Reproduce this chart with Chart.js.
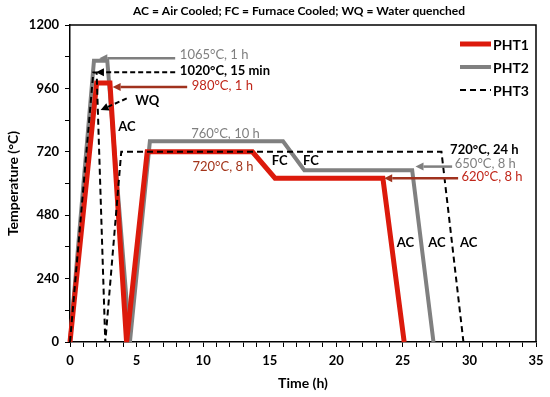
<!DOCTYPE html>
<html><head><meta charset="utf-8">
<script src="https://cdn.jsdelivr.net/npm/chart.js@4.4.1/dist/chart.umd.min.js"></script>
<style>html,body{margin:0;padding:0;background:#fff}#wrap{width:550px;height:397px}</style>
</head><body><div id="wrap"><canvas id="c" width="550" height="397"></canvas></div>
<script>
// ---- data ----
const seriesNames = ['PHT1', 'PHT2', 'PHT3'];
const pht1Time = [0, 2.0, 3.0, 4.25, 5.8, 13.7, 15.4, 23.5, 25.1];
const pht1Temp = [0, 980, 980, 0, 720, 720, 620, 620, 0];
const pht2Time = [0, 1.8, 2.8, 4.5, 6.0, 16.0, 17.6, 25.7, 27.3];
const pht2Temp = [0, 1065, 1065, 0, 760, 760, 650, 650, 0];
const pht3Time = [0, 1.75, 2.0, 2.65, 3.85, 27.9, 29.55];
const pht3Temp = [0, 1020, 1020, 0, 720, 720, 0];
const xMajorTicks = [0, 5, 10, 15, 20, 25, 30, 35];
const yMajorTicks = [0, 240, 480, 720, 960, 1200];
const titleText = 'AC = Air Cooled; FC = Furnace Cooled; WQ = Water quenched';
const xTitle = 'Time (h)';
const yTitle = 'Temperature (°C)';

// annotation labels anchored in data space (t = hours, T = °C at vertical centre, left-aligned)
const noteLabels = [
  {text: '1065°C, 1 h', t: 8.25, T: 1086, color: '#7f7f7f', bold: false},
  {text: '1020°C, 15 min', t: 8.25, T: 1026, color: '#000000', bold: true},
  {text: '980°C, 1 h', t: 9.15, T: 969, color: '#c0261a', bold: false},
  {text: 'WQ', t: 4.9, T: 912, color: '#000000', bold: true},
  {text: 'AC', t: 3.63, T: 815, color: '#000000', bold: true},
  {text: '760°C, 10 h', t: 9.1, T: 787, color: '#7f7f7f', bold: false},
  {text: '720°C, 8 h', t: 9.2, T: 664, color: '#a3341a', bold: false},
  {text: 'FC', t: 15.15, T: 686, color: '#000000', bold: true},
  {text: 'FC', t: 17.5, T: 686, color: '#000000', bold: true},
  {text: '720°C, 24 h', t: 28.55, T: 729, color: '#000000', bold: true},
  {text: '650°C, 8 h', t: 28.9, T: 674, color: '#7f7f7f', bold: false},
  {text: '620°C, 8 h', t: 29.4, T: 624, color: '#c0261a', bold: false},
  {text: 'AC', t: 24.55, T: 374, color: '#000000', bold: true},
  {text: 'AC', t: 26.9, T: 374, color: '#000000', bold: true},
  {text: 'AC', t: 29.3, T: 374, color: '#000000', bold: true}
];
// arrows: from (t0,T0) to tip (t1,T1)
const noteArrows = [
  {t0: 7.9, T0: 1074, t1: 2.2, T1: 1074, color: '#7f7f7f', dashed: false},
  {t0: 7.9, T0: 1021, t1: 1.95, T1: 1021, color: '#000000', dashed: true},
  {t0: 8.8, T0: 965, t1: 3.2, T1: 965, color: '#a0321e', dashed: false},
  {t0: 4.26, T0: 922, t1: 2.3, T1: 878, color: '#000000', dashed: true},
  {t0: 28.7, T0: 664, t1: 25.95, T1: 664, color: '#7f7f7f', dashed: false},
  {t0: 29.15, T0: 620, t1: 23.6, T1: 620, color: '#a0321e', dashed: false}
];

const toPts = (ts, vs) => ts.map((t, i) => ({x: t, y: vs[i]}));
const FONT = 'Lato, "Open Sans", "DejaVu Sans", sans-serif';

const decor = {
  id: 'decor',
  afterDatasetsDraw(chart) {
    const ctx = chart.ctx, a = chart.chartArea;
    const xs = chart.scales.x, ys = chart.scales.y;
    ctx.save();
    ctx.strokeStyle = '#000'; ctx.lineWidth = 1.5;
    ctx.beginPath();
    ctx.moveTo(a.left, a.top); ctx.lineTo(a.right, a.top); ctx.lineTo(a.right, a.bottom);
    ctx.stroke();
    noteArrows.forEach(ar => {
      const x0 = xs.getPixelForValue(ar.t0), y0 = ys.getPixelForValue(ar.T0);
      const x1 = xs.getPixelForValue(ar.t1), y1 = ys.getPixelForValue(ar.T1);
      const ang = Math.atan2(y1 - y0, x1 - x0);
      const hl = 8, hw = 4;
      const bx = x1 - hl * Math.cos(ang), by = y1 - hl * Math.sin(ang);
      ctx.strokeStyle = ar.color; ctx.fillStyle = ar.color;
      ctx.lineWidth = ar.dashed ? 2 : 2.5;
      ctx.setLineDash(ar.dashed ? [5, 3] : []);
      ctx.beginPath(); ctx.moveTo(x0, y0); ctx.lineTo(bx, by); ctx.stroke();
      ctx.setLineDash([]);
      ctx.beginPath();
      ctx.moveTo(x1, y1);
      ctx.lineTo(bx + hw * Math.sin(ang), by - hw * Math.cos(ang));
      ctx.lineTo(bx - hw * Math.sin(ang), by + hw * Math.cos(ang));
      ctx.closePath(); ctx.fill();
    });
    ctx.textBaseline = 'middle'; ctx.textAlign = 'left';
    noteLabels.forEach(l => {
      ctx.font = (l.bold ? 'bold ' : '') + '13px ' + FONT;
      ctx.fillStyle = l.color;
      ctx.fillText(l.text, xs.getPixelForValue(l.t), ys.getPixelForValue(l.T));
    });
    ctx.restore();
  },
  afterDraw(chart) {
    const ctx = chart.ctx, a = chart.chartArea;
    ctx.save();
    ctx.font = 'bold 12px ' + FONT;
    ctx.fillStyle = '#000'; ctx.textAlign = 'center'; ctx.textBaseline = 'middle';
    ctx.fillText(titleText, (a.left + a.right) / 2 - 4, 11);
    const lx0 = 460, lx1 = 491, rows = [44, 67, 90];
    chart.data.datasets.forEach((ds, i) => {
      ctx.strokeStyle = ds.borderColor; ctx.lineWidth = ds.borderWidth;
      ctx.setLineDash(ds.borderDash || []);
      ctx.beginPath(); ctx.moveTo(lx0, rows[i]); ctx.lineTo(lx1, rows[i]); ctx.stroke();
      ctx.setLineDash([]);
      ctx.font = 'bold 14px ' + FONT; ctx.fillStyle = '#000';
      ctx.textAlign = 'left'; ctx.textBaseline = 'middle';
      ctx.fillText(ds.label, lx1 + 2, rows[i] + 1);
    });
    ctx.restore();
  }
};

new Chart(document.getElementById('c'), {
  type: 'line',
  data: {
    datasets: [
      {label: seriesNames[0], data: toPts(pht1Time, pht1Temp), borderColor: '#dc1a0c', borderWidth: 5, order: 1},
      {label: seriesNames[1], data: toPts(pht2Time, pht2Temp), borderColor: '#808080', borderWidth: 4, order: 2},
      {label: seriesNames[2], data: toPts(pht3Time, pht3Temp), borderColor: '#000000', borderWidth: 2, borderDash: [6, 4], order: 0}
    ]
  },
  options: {
    responsive: false,
    animation: false,
    devicePixelRatio: 1,
    layout: {padding: {top: 25, right: 14, left: 0, bottom: 0}},
    elements: {point: {radius: 0}, line: {tension: 0, borderJoinStyle: 'miter', fill: false}},
    datasets: {line: {clip: 6}},
    plugins: {legend: {display: false}, tooltip: {enabled: false}, title: {display: false}},
    scales: {
      x: {
        type: 'linear', min: 0, max: 35,
        afterFit: s => { s.height = 55; },
        ticks: {stepSize: 1, autoSkip: false, maxRotation: 0, padding: 6,
          color: '#000', font: {family: FONT, size: 13, weight: 'bold'},
          callback: v => xMajorTicks.includes(v) ? String(v) : ''},
        grid: {drawOnChartArea: false, drawTicks: true, tickLength: 5, color: '#000', lineWidth: 1},
        border: {display: true, color: '#000', width: 1.5},
        title: {display: true, text: xTitle, color: '#000', font: {family: FONT, size: 14, weight: 'bold'}, padding: {top: 0, bottom: 5}}
      },
      y: {
        type: 'linear', min: 0, max: 1200,
        afterFit: s => { s.width = 70; },
        ticks: {stepSize: 120, autoSkip: false, padding: 6,
          color: '#000', font: {family: FONT, size: 13, weight: 'bold'},
          callback: v => yMajorTicks.includes(v) ? String(v) : ''},
        grid: {drawOnChartArea: false, drawTicks: true, tickLength: 5, color: '#000', lineWidth: 1},
        border: {display: true, color: '#000', width: 1.5},
        title: {display: true, text: yTitle, color: '#000', font: {family: FONT, size: 14, weight: 'bold'}, padding: {top: 5, bottom: 0}}
      }
    }
  },
  plugins: [decor]
});
</script></body></html>
